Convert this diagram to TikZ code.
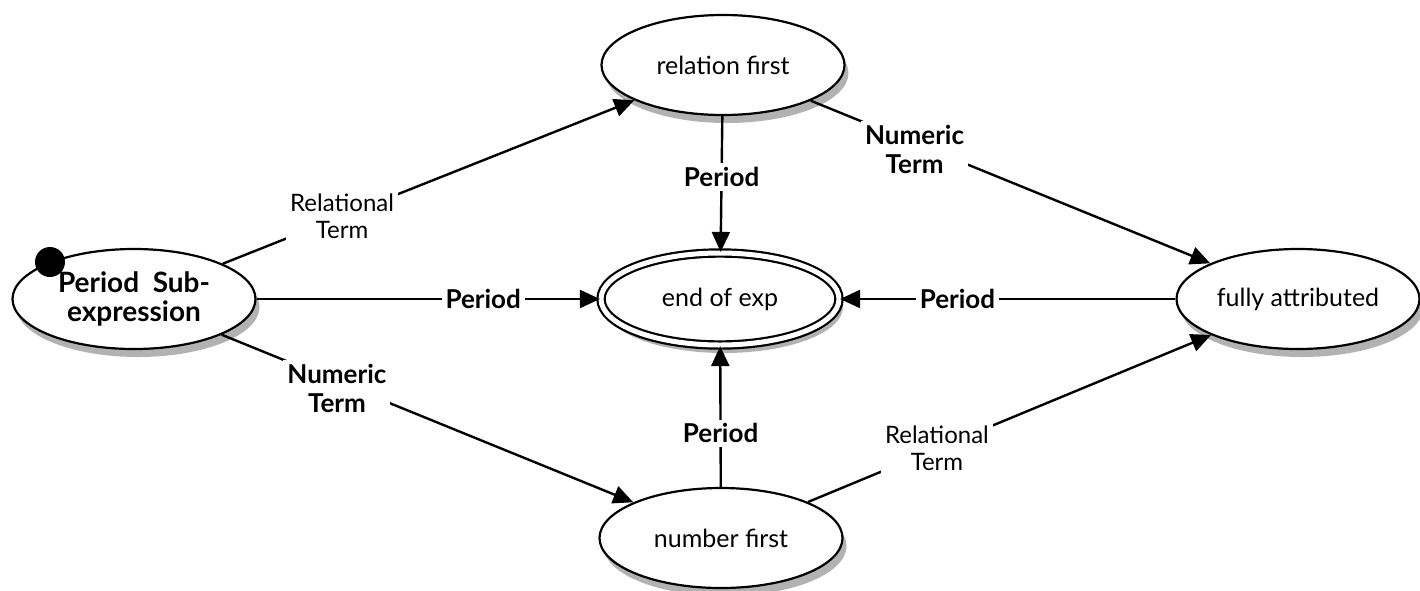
\documentclass[tikz,border=0pt]{standalone}
\usepackage{fontspec}
\setmainfont{Lato}
\usepackage{tikz}
\usetikzlibrary{shapes.geometric, arrows.meta, positioning, shadows}

\begin{document}
\begin{tikzpicture}[x=1pt, y=-1pt,
    state/.style={ellipse, draw, line width=2.2pt, fill=white, minimum width=243pt, minimum height=100pt, inner sep=0pt, align=center, font=\fontsize{25}{28}\selectfont, general shadow={fill=black!30, shadow xshift=4pt, shadow yshift=-8pt}},
    final/.style={state, double, double distance=5pt, line width=2.2pt},
    arrow/.style={-{Triangle[length=20pt, width=18pt]}, line width=2.4pt},
    lbl/.style={fill=white, inner sep=4pt, align=center, font=\fontsize{24}{27}\selectfont},
    blbl/.style={lbl, font=\bfseries\fontsize{26}{29}\selectfont}
]
    \useasboundingbox (0,0) rectangle (1420,590);
    \node[state, font=\bfseries\fontsize{28}{29}\selectfont] at (134,299) (start) {Period\ \ Sub-\\expression};
    \node[state] at (723,65) (relfirst) {relation first};
    \node[final, minimum width=238pt, minimum height=92pt] at (720,299) (endexp) {end of exp};
    \node[state] at (1298,299) (fully) {fully attributed};
    \node[state] at (721,538) (numfirst) {number first};
    \node[circle, fill=black, minimum size=30pt, inner sep=0pt] at (50,262) (init) {};

    \draw[arrow] (start) -- node[lbl, pos=0.29] {Relational\\Term} (relfirst);
    \draw[arrow] (start) -- node[blbl, pos=0.66] {Period} (endexp);
    \draw[arrow] (start) -- node[blbl, pos=0.28, yshift=-7pt] {Numeric\\Term} (numfirst);
    \draw[arrow] (relfirst) -- node[blbl, pos=0.45] {Period} (endexp);
    \draw[arrow] (relfirst) -- node[blbl, pos=0.26, yshift=-6pt] {Numeric\\Term} (fully);
    \draw[arrow] (fully) -- node[blbl, pos=0.65] {Period} (endexp);
    \draw[arrow] (numfirst) -- node[blbl, pos=0.38] {Period} (endexp);
    \draw[arrow] (numfirst) -- node[lbl, pos=0.32] {Relational\\Term} (fully);
\end{tikzpicture}
\end{document}
